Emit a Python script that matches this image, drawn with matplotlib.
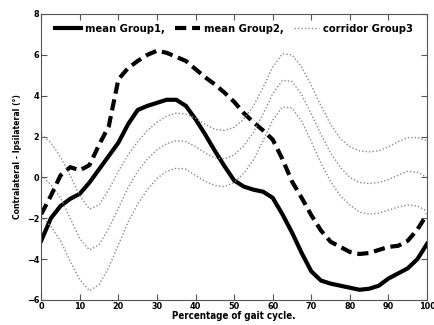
import matplotlib.pyplot as plt
import numpy as np

# percentage of gait cycle
x = np.arange(0, 100.1, 2.5)

mean_g1 = [-3.1, -2.0, -1.4, -1.05, -0.8, -0.25, 0.4, 1.05, 1.7, 2.6,
           3.3, 3.5, 3.65, 3.8, 3.8, 3.5, 2.85, 2.1, 1.3, 0.55,
           -0.15, -0.45, -0.6, -0.7, -1.0, -1.8, -2.7, -3.7, -4.6, -5.05,
           -5.2, -5.3, -5.4, -5.5, -5.45, -5.3, -4.95, -4.7, -4.45, -4.0,
           -3.25]
mean_g2 = [-1.8, -0.9, 0.1, 0.5, 0.35, 0.6, 1.6, 2.5, 4.8, 5.35,
           5.7, 6.0, 6.2, 6.1, 5.9, 5.7, 5.3, 4.9, 4.55, 4.15,
           3.7, 3.15, 2.7, 2.3, 1.85, 0.9, -0.2, -1.0, -1.85, -2.6,
           -3.15, -3.4, -3.65, -3.75, -3.7, -3.55, -3.4, -3.35, -3.1, -2.55,
           -1.8]
corr_upper = [2.1, 1.7, 1.0, 0.1, -0.9, -1.55, -1.35, -0.6, 0.3, 1.1,
              1.75, 2.3, 2.7, 3.0, 3.15, 3.1, 2.9, 2.6, 2.35, 2.3,
              2.45, 2.85, 3.5, 4.4, 5.4, 6.05, 6.0, 5.4, 4.5, 3.5,
              2.6, 1.9, 1.5, 1.3, 1.25, 1.3, 1.5, 1.75, 1.95, 1.95,
              1.8]
corr_mid = [0.1, -0.35, -1.0, -2.0, -3.0, -3.55, -3.3, -2.5, -1.5, -0.5,
            0.3, 0.9, 1.35, 1.65, 1.8, 1.75, 1.5, 1.2, 0.95, 0.9,
            1.1, 1.55, 2.2, 3.1, 4.1, 4.75, 4.7, 4.05, 3.1, 2.1,
            1.2, 0.5, 0.0, -0.25, -0.3, -0.25, -0.1, 0.1, 0.3, 0.25,
            0.0]
corr_lower = [-1.9, -2.4, -3.1, -4.1, -5.0, -5.55, -5.25, -4.4, -3.3, -2.2,
              -1.3, -0.6, -0.05, 0.3, 0.45, 0.4, 0.1, -0.2, -0.4, -0.45,
              -0.25, 0.2, 0.85, 1.8, 2.8, 3.45, 3.4, 2.75, 1.75, 0.7,
              -0.2, -0.9, -1.35, -1.7, -1.8, -1.75, -1.6, -1.45, -1.35, -1.4,
              -1.65]

narrow = ['Liberation Sans Narrow', 'DejaVu Sans']

fig = plt.figure(figsize=(4.34, 3.25), dpi=100)
ax = fig.add_axes([0.095, 0.077, 0.889, 0.880])

dot_kw = dict(color='#8a8a8a', lw=1.0, linestyle=(0, (1, 1.5)))
ax.plot(x, mean_g1, color='black', lw=3, label='mean Group1,')
ax.plot(x, mean_g2, color='black', lw=3, linestyle=(0, (2.7, 1.4)),
        label='mean Group2,')
ax.plot(x, corr_upper, label='corridor Group3', **dot_kw)
ax.plot(x, corr_mid, **dot_kw)
ax.plot(x, corr_lower, **dot_kw)

ax.set_xlim(0, 100)
ax.set_ylim(-6, 8)
ax.set_xticks(np.arange(0, 101, 10))
ax.set_yticks(np.arange(-6, 9, 2))
ax.tick_params(direction='in', length=4, top=True, right=True,
               labelsize=6.5, pad=1.5, color='#555555')
for lab in ax.get_xticklabels() + ax.get_yticklabels():
    lab.set_family(narrow)
    lab.set_fontweight('bold')
    lab.set_fontstretch('condensed')
for s in ax.spines.values():
    s.set_color('#555555')

ax.set_xlabel('Percentage of gait cycle.', fontsize=7, fontweight='bold',
              fontstretch='condensed', labelpad=0)
ax.set_ylabel('Contralateral - Ipsilateral (°)', fontsize=6.2,
              fontweight='bold', fontstretch='condensed', labelpad=3)

ax.legend(loc='upper center', ncol=3, frameon=False, handlelength=2.3,
          handletextpad=0.35, columnspacing=0.9, borderaxespad=0.5,
          prop={'family': narrow, 'weight': 'bold', 'size': 8,
                'stretch': 'condensed'})

fig.savefig('out.png', dpi=100)
